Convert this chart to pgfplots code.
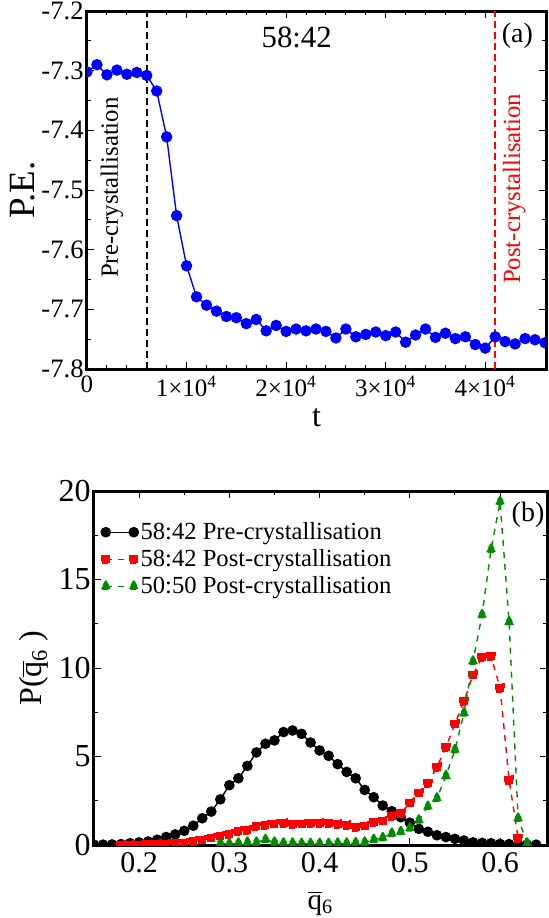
\documentclass[border=0pt]{standalone}
\usepackage{pgfplots}
\pgfplotsset{compat=1.18}
\usepackage{fontspec}
\setmainfont{Liberation Serif}

\definecolor{dgreen}{rgb}{0,0.55,0}

% potential energy against time, 58:42 mixture
\pgfplotstableread{
t pe
0 -7.302
1000 -7.290
2000 -7.307
3000 -7.299
4000 -7.306
5000 -7.303
6000 -7.308
7000 -7.334
8000 -7.411
9000 -7.543
10000 -7.627
11000 -7.679
12000 -7.693
13000 -7.703
14000 -7.712
15000 -7.714
16000 -7.724
17000 -7.717
18000 -7.736
19000 -7.727
20000 -7.737
21000 -7.733
22000 -7.736
23000 -7.733
24000 -7.737
25000 -7.748
26000 -7.733
27000 -7.746
28000 -7.742
29000 -7.738
30000 -7.744
31000 -7.738
32000 -7.755
33000 -7.743
34000 -7.733
35000 -7.747
36000 -7.740
37000 -7.749
38000 -7.746
39000 -7.759
40000 -7.765
41000 -7.746
42000 -7.754
43000 -7.758
44000 -7.749
45000 -7.751
46000 -7.756
}\petable

% distributions of the averaged bond order parameter
\pgfplotstableread{
q p
0.15 0.02
0.16 0.02
0.17 0.03
0.18 0.05
0.19 0.10
0.20 0.15
0.21 0.20
0.22 0.30
0.23 0.45
0.24 0.60
0.25 0.80
0.26 1.09
0.27 1.51
0.28 1.89
0.29 2.58
0.30 3.38
0.31 3.77
0.32 4.47
0.33 5.23
0.34 5.72
0.35 5.91
0.36 6.38
0.37 6.47
0.38 6.28
0.39 5.79
0.40 5.34
0.41 5.04
0.42 4.57
0.43 4.13
0.44 3.77
0.45 3.11
0.46 2.70
0.47 2.23
0.48 1.91
0.49 1.57
0.50 1.26
0.51 0.91
0.52 0.75
0.53 0.55
0.54 0.45
0.55 0.35
0.56 0.25
0.57 0.15
0.58 0.12
0.59 0.10
0.60 0.06
0.61 0.05
0.62 0.04
0.63 0.02
0.64 0.02
}\prefivefortytwo

\pgfplotstableread{
q p
0.18 0.00
0.19 0.01
0.20 0.02
0.21 0.03
0.22 0.05
0.23 0.07
0.24 0.10
0.25 0.14
0.26 0.22
0.27 0.30
0.28 0.42
0.29 0.53
0.30 0.62
0.31 0.80
0.32 0.85
0.33 1.05
0.34 1.13
0.35 1.20
0.36 1.25
0.37 1.17
0.38 1.20
0.39 1.22
0.40 1.25
0.41 1.22
0.42 1.18
0.43 1.12
0.44 1.00
0.45 1.10
0.46 1.28
0.47 1.38
0.48 1.64
0.49 1.79
0.50 2.40
0.51 2.96
0.52 3.49
0.53 4.40
0.54 5.51
0.55 6.85
0.56 8.11
0.57 9.62
0.58 10.60
0.59 10.66
0.60 8.87
0.61 3.68
0.62 0.38
}\postfivefortytwo

\pgfplotstableread{
q p
0.29 0.10
0.30 0.05
0.31 0.10
0.32 0.15
0.33 0.15
0.34 0.30
0.35 0.15
0.36 0.10
0.37 0.10
0.38 0.08
0.39 0.08
0.40 0.08
0.41 0.08
0.42 0.10
0.43 0.10
0.44 0.12
0.45 0.15
0.46 0.30
0.47 0.40
0.48 0.65
0.49 0.75
0.50 0.95
0.51 1.40
0.52 2.17
0.53 2.64
0.54 3.90
0.55 5.38
0.56 7.45
0.57 10.38
0.58 13.00
0.59 16.70
0.60 19.40
0.61 12.60
0.62 1.50
0.63 0.10
}\postfiftyfifty

\begin{document}
\begin{tikzpicture}
\path[use as bounding box] (0,0) rectangle (274pt,-459pt);
\pgfplotsset{
  panel/.style={
    scale only axis,
    axis line style={line width=1.5pt},
    every tick/.style={black, line width=0.5pt},
    major tick length=3.5pt,
    minor tick length=1.8pt,
    tick align=inside,
    /pgf/number format/assume math mode=true,
    clip marker paths=true,
    every mark/.append style={solid},
  },
}
% (a) potential energy
\begin{axis}[panel,
  at={(43.5pt,-184.5pt)}, anchor=south west,
  width=229.5pt, height=179pt,
  xmin=0, xmax=46100, ymin=-7.8, ymax=-7.2,
  xtick={0,10000,20000,30000,40000},
  xticklabels={0,1×10\textsuperscript{4},2×10\textsuperscript{4},3×10\textsuperscript{4},4×10\textsuperscript{4}},
  minor x tick num=4,
  ytick={-7.8,-7.7,-7.6,-7.5,-7.4,-7.3,-7.2},
  yticklabels={-7.8,-7.7,-7.6,-7.5,-7.4,-7.3,-7.2},
  minor y tick num=1,
  xticklabel style={font=\fontsize{12.5}{14}\selectfont},
  yticklabel style={font=\fontsize{13.3}{15}\selectfont, inner sep=1.5pt},
  xlabel={t}, xlabel style={font=\fontsize{16}{18}\selectfont, yshift=1pt},
  ylabel={P.E.}, ylabel style={font=\fontsize{18.5}{20}\selectfont, yshift=-2pt},
  scaled x ticks=false,
]
\addplot[black, dashed, line width=0.8pt, dash pattern=on 3.5pt off 2pt] coordinates {(6000,-7.8) (6000,-7.2)};
\addplot[red, dashed, line width=0.8pt, dash pattern=on 3.5pt off 2pt] coordinates {(41000,-7.8) (41000,-7.2)};
\addplot[blue, line width=0.7pt, mark=*, mark size=2.5pt] table[x=t, y=pe] {\petable};
\node[font=\fontsize{15.4}{17}\selectfont] at (axis cs:21060,-7.244) {58:42};
\node[font=\fontsize{14}{16}\selectfont] at (axis cs:43230,-7.242) {(a)};
\node[rotate=90, font=\fontsize{12.4}{14}\selectfont] at (axis cs:2500,-7.496) {Pre-crystallisation};
\node[rotate=90, red, font=\fontsize{12.4}{14}\selectfont] at (axis cs:42900,-7.498) {Post-crystallisation};
\end{axis}

% (b) distributions
\begin{axis}[panel,
  at={(47pt,-422.5pt)}, anchor=south west,
  width=226.5pt, height=177pt,
  xmin=0.15, xmax=0.652, ymin=0, ymax=20,
  xtick={0.2,0.3,0.4,0.5,0.6},
  xticklabels={0.2,0.3,0.4,0.5,0.6},
  minor x tick num=1,
  ytick={0,5,10,15,20},
  minor y tick num=1,
  xticklabel style={font=\fontsize{15}{17}\selectfont},
  yticklabel style={font=\fontsize{16}{18}\selectfont, inner sep=1.5pt},
  xlabel={\(\overline{\mbox{q}}\)\textsubscript{6}},
  xlabel style={font=\fontsize{14.5}{16}\selectfont, yshift=-2.5pt},
  ylabel={P(\(\overline{\mbox{q}}\)\textsubscript{6} )},
  ylabel style={font=\fontsize{16}{18}\selectfont},
  legend style={draw=none, fill=none, at={(axis description cs:0.01,0.93)}, anchor=north west,
    font=\fontsize{12.3}{13}\selectfont, row sep=-0.5pt, inner sep=1pt,
    nodes={inner xsep=1pt}},
  legend cell align=left,
  legend image code/.code={\draw[#1] plot coordinates {(0pt,0pt) (14pt,0pt)};},
]
\addplot[black, line width=0.7pt, mark=*, mark size=2.3pt] table[x=q, y=p] {\prefivefortytwo};
\addlegendentry{58:42 Pre-crystallisation}
\addplot[red, dashed, line width=0.7pt, mark=square*, mark size=2pt] table[x=q, y=p] {\postfivefortytwo};
\addlegendentry{58:42 Post-crystallisation}
\addplot[dgreen, dashed, line width=0.7pt, mark=triangle*, mark size=2.8pt] table[x=q, y=p] {\postfiftyfifty};
\addlegendentry{50:50 Post-crystallisation}
\node[font=\fontsize{14}{16}\selectfont] at (axis cs:0.631,18.64) {(b)};
\end{axis}
\end{tikzpicture}
\end{document}
